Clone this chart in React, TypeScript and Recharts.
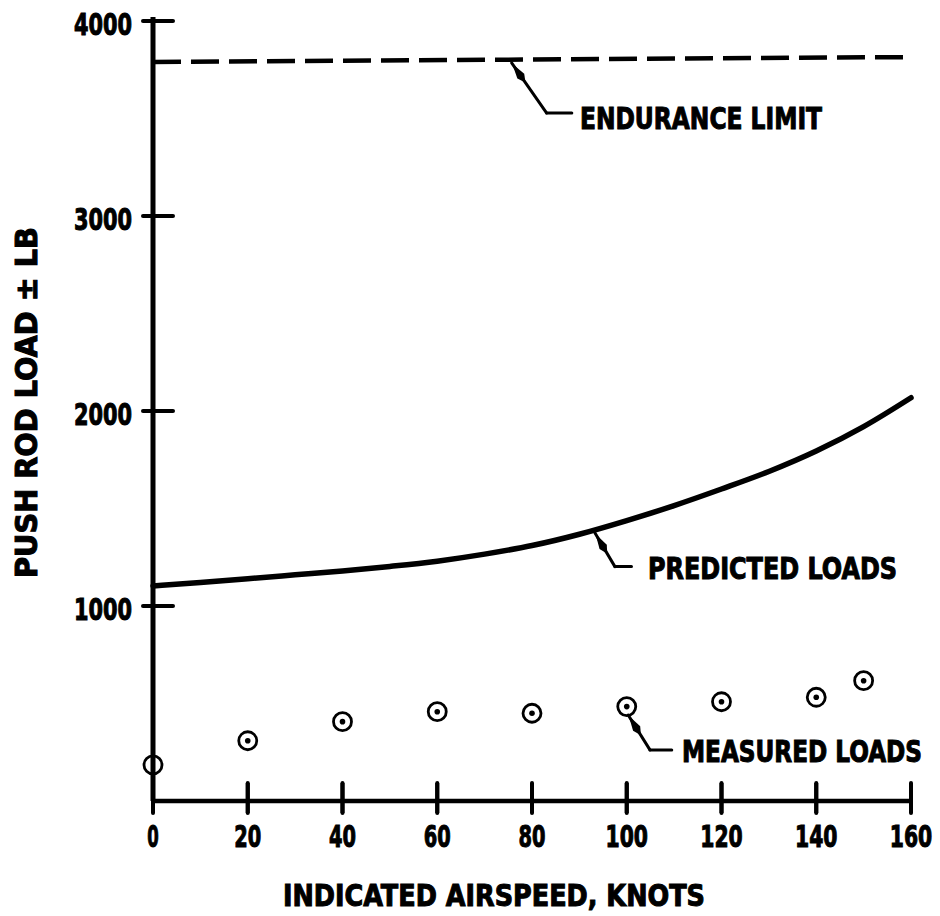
import {
  ComposedChart,
  Customized,
  Line,
  ReferenceLine,
  Scatter,
  XAxis,
  YAxis,
} from 'recharts'

const FONT = "'Liberation Sans Narrow', 'DejaVu Sans Condensed', 'Arial Narrow', sans-serif"

// predicted curve, read every 10 knots
const predictedSpeeds = [0, 10, 20, 30, 40, 50, 60, 70, 80, 90, 100, 110, 120, 130, 140, 150, 160]
const predictedLoads = [1103, 1121, 1140, 1160, 1180, 1203, 1230, 1266, 1310, 1368, 1438, 1515, 1600, 1690, 1795, 1920, 2068]

// test points
const measuredSpeeds = [0, 20, 40, 60, 80, 100, 120, 140, 150]
const measuredLoads = [185, 309, 407, 458, 450, 484, 509, 532, 617]

const enduranceSpeeds = [0, 160]
const enduranceLimit = [3790, 3815]

const xTicks = [0, 20, 40, 60, 80, 100, 120, 140, 160]
const yTicks = [1000, 2000, 3000, 4000]
const xDomain = [0, 160]

// leader lines: [tip, bend, end] in data units
const leaders = [
  { id: 'endurance', pts: [{ x: 75.7, y: 3785 }, { x: 83.1, y: 3528 }, { x: 88.4, y: 3528 }] },
  { id: 'predicted', pts: [{ x: 93.3, y: 1374 }, { x: 97.5, y: 1202 }, { x: 101.0, y: 1202 }] },
  { id: 'measured', pts: [{ x: 100.3, y: 441 }, { x: 104.9, y: 262 }, { x: 109.5, y: 262 }] },
]

const predicted = predictedSpeeds.map((x, i) => ({ x, y: predictedLoads[i] }))
const measured = measuredSpeeds.map((x, i) => ({ x, y: measuredLoads[i] }))
const endurance = enduranceSpeeds.map((x, i) => ({ x, y: enduranceLimit[i] }))
const tickMarks = xTicks.map((x) => ({ x, y: 0 }))

// layout
const W = 940
const H = 916
const MARGIN = { top: 21, right: 29, left: 3, bottom: 0 }
const Y_AXIS_W = 150
const X_AXIS_H = 115
const PLOT_LEFT = MARGIN.left + Y_AXIS_W
const PLOT_WIDTH = W - PLOT_LEFT - MARGIN.right
const PLOT_BOTTOM = H - MARGIN.bottom - X_AXIS_H

const textStyle = {
  fontFamily: FONT,
  fontWeight: 700,
  fontSize: 30,
  fill: '#000',
  stroke: '#000',
  strokeWidth: 1,
}

function digitsWidth(s: string) {
  return s.length * 11.5 + (s.length - 1) * 4
}

function XTick({ x, y, payload }: any) {
  const label = String(payload.value)
  return (
    <text
      x={x}
      y={y + 34}
      textAnchor="middle"
      {...textStyle}
      textLength={digitsWidth(label)}
      lengthAdjust="spacingAndGlyphs"
    >
      {label}
    </text>
  )
}

function YTick({ x, y, payload }: any) {
  const label = String(payload.value)
  return (
    <g>
      <line x1={x - 10} y1={y} x2={x + 20} y2={y} stroke="#000" strokeWidth={4} strokeLinecap="round" />
      <text
        x={x - 79}
        y={y + 14}
        {...textStyle}
        textLength={digitsWidth(label)}
        lengthAdjust="spacingAndGlyphs"
      >
        {label}
      </text>
    </g>
  )
}

function TestPoint({ cx, cy, payload }: any) {
  return (
    <g>
      <circle cx={cx} cy={cy} r={9} fill="none" stroke="#000" strokeWidth={2.8} />
      {payload.x !== 0 && <circle cx={cx} cy={cy} r={2.8} fill="#000" />}
    </g>
  )
}

// x tick mark crossing the axis line: 18px above, 12px below
function TickMark({ cx, cy }: any) {
  return <path d={`M${cx},${cy - 18}L${cx},${cy + 12}`} stroke="#000" strokeWidth={4} strokeLinecap="round" fill="none" />
}

// first segment of a leader carries the tapered arrowhead
function ArrowSegment({ x1, y1, x2, y2 }: any) {
  const dx = x2 - x1
  const dy = y2 - y1
  const len = Math.hypot(dx, dy) || 1
  const ux = dx / len
  const uy = dy / len
  const bx = x1 + ux * 16
  const by = y1 + uy * 16
  const w = 4.2
  const head = [
    `${x1 + ux * 1},${y1 + uy * 1}`,
    `${bx - uy * w},${by + ux * w}`,
    `${bx + ux * 8},${by + uy * 8}`,
    `${bx + uy * w},${by - ux * w}`,
  ].join(' ')
  return (
    <g>
      <line x1={x1} y1={y1} x2={x2} y2={y2} stroke="#000" strokeWidth={3} strokeLinecap="round" />
      <polygon points={head} fill="#000" />
    </g>
  )
}

function PlainSegment({ x1, y1, x2, y2 }: any) {
  return <line x1={x1} y1={y1} x2={x2} y2={y2} stroke="#000" strokeWidth={3} strokeLinecap="round" />
}

function Annotations() {
  const tickX = (t: number) => PLOT_LEFT + ((t - xDomain[0]) / (xDomain[1] - xDomain[0])) * PLOT_WIDTH
  return (
    <g>
      {xTicks.map((t) => (
        <rect key={t} x={tickX(t) - 2} y={PLOT_BOTTOM - 18} width={4} height={20} fill="#000" />
      ))}
      <rect x={PLOT_LEFT - 2.5} y={MARGIN.top - 4} width={5} height={6} fill="#000" />
      <text x={580} y={129} {...textStyle} textLength={242} lengthAdjust="spacingAndGlyphs">
        ENDURANCE LIMIT
      </text>
      <text x={648} y={579} {...textStyle} textLength={249} lengthAdjust="spacingAndGlyphs">
        PREDICTED LOADS
      </text>
      <text x={682} y={762} {...textStyle} textLength={240} lengthAdjust="spacingAndGlyphs">
        MEASURED LOADS
      </text>
      <text x={283} y={906} {...textStyle} textLength={422} lengthAdjust="spacingAndGlyphs">
        INDICATED AIRSPEED, KNOTS
      </text>
      <text
        transform="translate(37 578) rotate(-90)"
        x={0}
        y={0}
        {...textStyle}
        textLength={351}
        lengthAdjust="spacingAndGlyphs"
      >
        PUSH ROD LOAD ± LB
      </text>
    </g>
  )
}

export default function App() {
  return (
    <div style={{ position: 'absolute', left: 0, top: 0, width: W, height: H, background: '#fff' }}>
      <ComposedChart width={W} height={H} margin={MARGIN}>
        <XAxis
          type="number"
          dataKey="x"
          domain={xDomain}
          ticks={xTicks}
          height={X_AXIS_H}
          tickSize={12}
          tickMargin={0}
          tickLine={{ stroke: '#000', strokeWidth: 4 }}
          axisLine={{ stroke: '#000', strokeWidth: 4.5 }}
          tick={<XTick />}
          interval={0}
        />
        <YAxis
          type="number"
          dataKey="y"
          domain={[0, 4000]}
          ticks={yTicks}
          width={Y_AXIS_W}
          tickSize={0}
          tickMargin={0}
          tickLine={false}
          axisLine={{ stroke: '#000', strokeWidth: 5 }}
          tick={<YTick />}
          interval={0}
        />
        <Line
          data={endurance}
          dataKey="y"
          type="linear"
          stroke="#000"
          strokeWidth={4.5}
          strokeDasharray="28 10"
          dot={false}
          activeDot={false}
          isAnimationActive={false}
        />
        <Line
          data={predicted}
          dataKey="y"
          type="monotone"
          stroke="#000"
          strokeWidth={5.5}
          strokeLinecap="round"
          dot={false}
          activeDot={false}
          isAnimationActive={false}
        />
        <Scatter data={measured} dataKey="y" shape={<TestPoint />} isAnimationActive={false} />
        <Scatter data={tickMarks} dataKey="y" shape={<TickMark />} isAnimationActive={false} />
        {leaders.map((l) => (
          <ReferenceLine key={l.id + '-a'} segment={[l.pts[0], l.pts[1]]} shape={(p: any) => <ArrowSegment {...p} />} />
        ))}
        {leaders.map((l) => (
          <ReferenceLine key={l.id + '-b'} segment={[l.pts[1], l.pts[2]]} shape={(p: any) => <PlainSegment {...p} />} />
        ))}
        <Customized component={Annotations} />
      </ComposedChart>
    </div>
  )
}
